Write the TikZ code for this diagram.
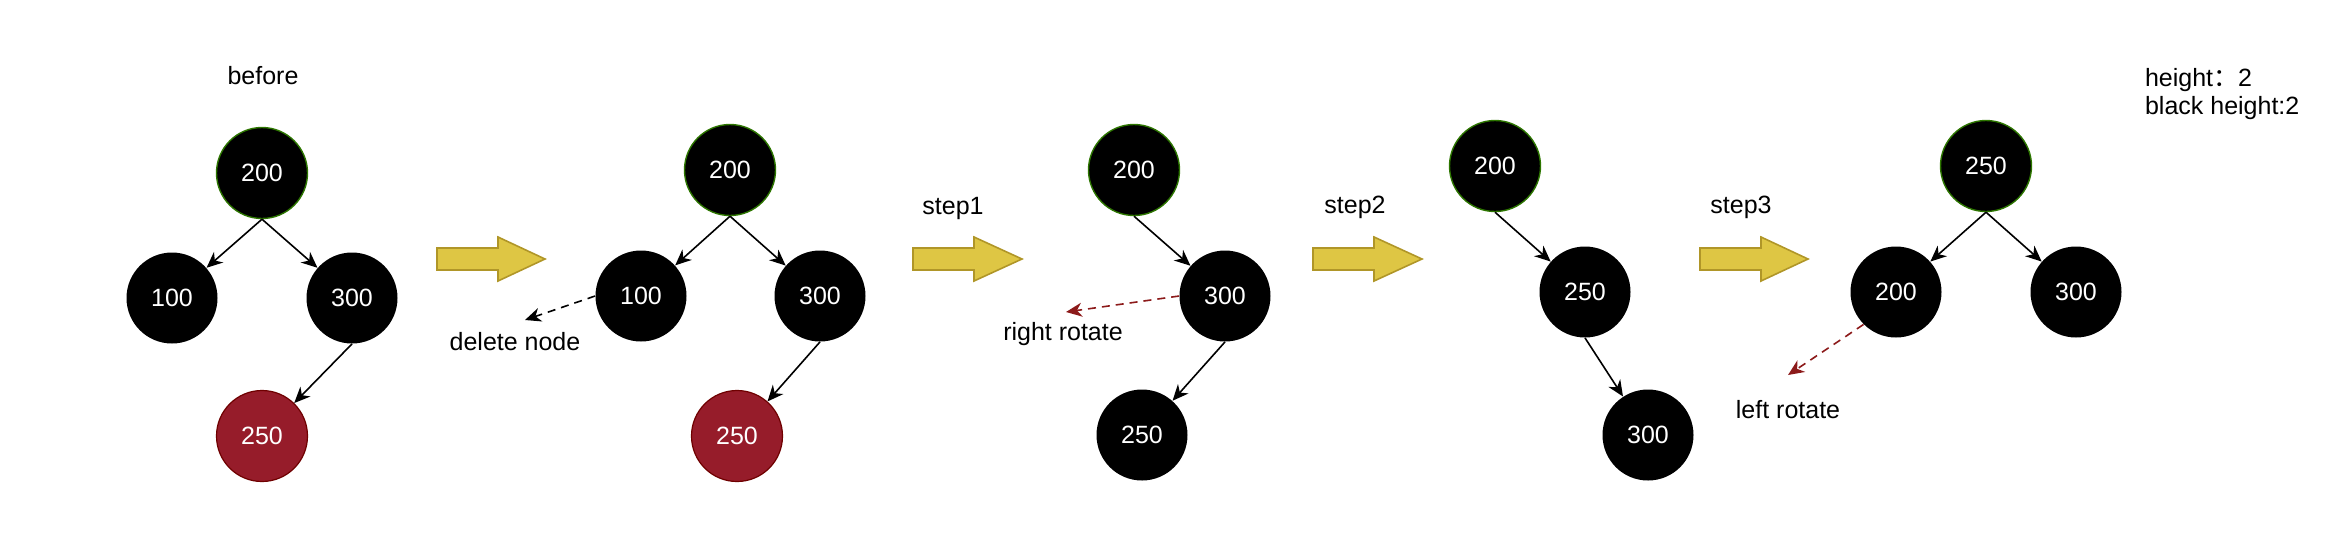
\documentclass[tikz,border=0pt]{standalone}
\usepackage{fontspec}
\setmainfont{Liberation Sans}
\newfontfamily\cjk{Noto Sans CJK SC}
\usetikzlibrary{arrows.meta}
\definecolor{rbred}{HTML}{961C2A}
\definecolor{rbredline}{HTML}{6F0000}
\definecolor{rootline}{HTML}{2D7600}
\definecolor{stepfill}{HTML}{DEC644}
\definecolor{stepline}{HTML}{B09628}
\definecolor{rotred}{HTML}{8C1A1A}
\tikzset{
  every node/.style={font=\fontsize{12.5}{14}\selectfont},
  blk/.style={circle,fill=black,text=white,minimum size=45.5pt,inner sep=0pt},
  rootblk/.style={blk,draw=rootline,line width=0.7pt},
  rednode/.style={blk,fill=rbred,draw=rbredline,line width=0.6pt},
  branch/.style={line width=0.8pt,-{Stealth[length=8pt,width=7pt,inset=2.5pt]}},
  hint/.style={branch,dash pattern=on 4pt off 3pt},
}
\begin{document}
\begin{tikzpicture}[x=0.5pt,y=-0.5pt]
  \useasboundingbox (0,0) rectangle (2342,548);
  \foreach \xa/\xb/\xc in {437/498/545,913/974/1022,1313/1374/1422,1700/1761/1808}
    \draw[fill=stepfill,draw=stepline,line width=0.8pt] (\xa,248) -- (\xb,248) -- (\xb,237)
      -- (\xc,259) -- (\xb,281) -- (\xb,270) -- (\xa,270) -- cycle;

  \node (before) at (263,76) {before};
  \node[rootblk] (a200) at (262,173) {200};
  \node[blk] (a100) at (172,298) {100};
  \node[blk] (a300) at (352,298) {300};
  \node[rednode] (a250) at (262,436) {250};
  \draw[branch] (a200.south) -- (a100);
  \draw[branch] (a200.south) -- (a300);
  \draw[branch] (a300.south) -- (a250);

  \node[rootblk] (b200) at (730,170) {200};
  \node[blk] (b100) at (641,296) {100};
  \node[blk] (b300) at (820,296) {300};
  \node[rednode] (b250) at (737,436) {250};
  \draw[branch] (b200.south) -- (b100);
  \draw[branch] (b200.south) -- (b300);
  \draw[branch] (b300.south) -- (b250);
  \coordinate (bdel) at (525,320);
  \draw[hint] (b100.west) -- (bdel);
  \node (delete) at (515,342) {delete node};

  \node (step1) at (953,208) {step1};
  \node[rootblk] (c200) at (1134,170) {200};
  \node[blk] (c300) at (1225,296) {300};
  \node[blk] (c250) at (1142,435) {250};
  \draw[branch] (c200.south) -- (c300);
  \draw[branch] (c300.south) -- (c250);
  \coordinate (crot) at (1066,312);
  \draw[hint,rotred] (c300.west) -- (crot);
  \node (rright) at (1063,334) {right rotate};

  \node (step2) at (1355,207) {step2};
  \node[rootblk] (d200) at (1495,166) {200};
  \node[blk] (d250) at (1585,292) {250};
  \node[blk] (d300) at (1648,435) {300};
  \draw[branch] (d200.south) -- (d250);
  \draw[branch] (d250.south) -- (d300);

  \node (step3) at (1741,207) {step3};
  \node[rootblk] (e250) at (1986,166) {250};
  \node[blk] (e200) at (1896,292) {200};
  \node[blk] (e300) at (2076,292) {300};
  \draw[branch] (e250.south) -- (e200);
  \draw[branch] (e250.south) -- (e300);
  \coordinate (erot) at (1788,375);
  \draw[hint,rotred] (e200.south west) -- (erot);
  \node (rleft) at (1788,410) {left rotate};

  \node[anchor=west,align=left] (info) at (2138,94) {height{\cjk ：}2\\black height:2};
\end{tikzpicture}
\end{document}
